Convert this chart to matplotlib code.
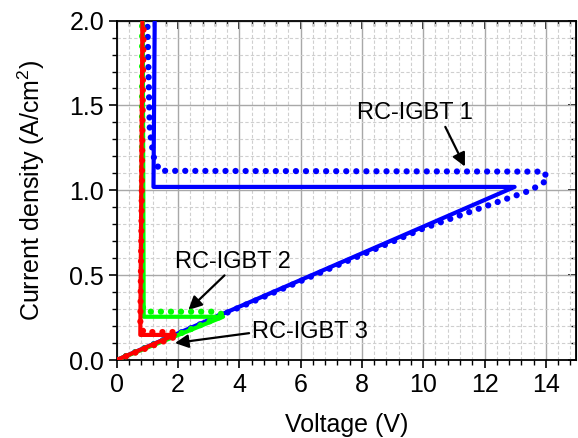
import matplotlib
matplotlib.use("Agg")
import matplotlib.pyplot as plt
from matplotlib.ticker import MultipleLocator

plt.rcParams['font.family'] = ['Liberation Sans', 'DejaVu Sans']
plt.rcParams['mathtext.fontset'] = 'custom'
plt.rcParams['mathtext.rm'] = 'Liberation Sans'

# datos (V, A/cm2)
# RC-IGBT 1
v1_solid = [0, 12.98, 1.20, 1.24]
j1_solid = [0, 1.02, 1.02, 2.0]
v1_dot = [0, 10.0, 13.5, 14.05, 13.95, 1.40, 1.20, 1.08, 1.00]
j1_dot = [0, 0.775, 1.0, 1.06, 1.11, 1.115, 1.20, 1.35, 2.0]
# RC-IGBT 2
v2_solid = [0, 3.47, 0.88, 0.85]
j2_solid = [0, 0.255, 0.255, 2.0]
v2_dot = [0, 3.52, 3.20, 0.95, 0.82, 0.83]
j2_dot = [0, 0.265, 0.285, 0.285, 0.32, 2.0]
# RC-IGBT 3
v3_solid = [0, 1.90, 0.77, 0.84]
j3_solid = [0, 0.148, 0.148, 2.0]
v3_dot = [0, 1.95, 1.85, 0.88, 0.77, 0.88]
j3_dot = [0, 0.14, 0.165, 0.165, 0.20, 2.0]

fig = plt.figure(figsize=(5.78, 4.38), dpi=100)
ax = fig.add_axes([0.2019, 0.178, 0.7955, 0.775])

dot = (0, (0.01, 1.6))
ax.plot(v1_dot, j1_dot, color='#0000ff', lw=4.5, ls=dot, dash_capstyle='round', zorder=3)
ax.plot(v1_solid, j1_solid, color='#0000ff', lw=3.0, zorder=3)
ax.plot(v2_dot, j2_dot, color='#00ff00', lw=4.5, ls=dot, dash_capstyle='round', zorder=4)
ax.plot(v2_solid, j2_solid, color='#00ff00', lw=3.0, zorder=4)
ax.plot(v3_dot, j3_dot, color='#ff0000', lw=4.5, ls=dot, dash_capstyle='round', zorder=5)
ax.plot(v3_solid, j3_solid, color='#ff0000', lw=3.0, zorder=5)

ax.set_xlim(0, 15)
ax.set_ylim(0, 2.0)
ax.xaxis.set_major_locator(MultipleLocator(2))
ax.xaxis.set_minor_locator(MultipleLocator(0.4))
ax.yaxis.set_major_locator(MultipleLocator(0.5))
ax.yaxis.set_minor_locator(MultipleLocator(0.1))
ax.yaxis.set_major_formatter(matplotlib.ticker.FormatStrFormatter('%.1f'))

ax.grid(which='major', color='#a8a8a8', lw=1.0, ls='-')
ax.grid(which='minor', color='#cfcfcf', lw=0.8, ls=(0, (3, 2)))
ax.set_axisbelow(True)

ax.tick_params(which='major', direction='out', length=6, width=1.2, labelsize=18, pad=3)
ax.tick_params(which='minor', direction='out', length=3.5, width=1.0)
for s in ax.spines.values():
    s.set_linewidth(1.3)

# ejes de arriba y derecha con ticks hacia adentro
top = ax.secondary_xaxis('top')
top.xaxis.set_major_locator(MultipleLocator(2))
top.xaxis.set_minor_locator(MultipleLocator(0.4))
top.tick_params(which='both', direction='in', labeltop=False)
top.tick_params(which='major', length=6, width=1.2)
top.tick_params(which='minor', length=3.5, width=1.0)
right = ax.secondary_yaxis('right')
right.yaxis.set_major_locator(MultipleLocator(0.5))
right.yaxis.set_minor_locator(MultipleLocator(0.1))
right.tick_params(which='both', direction='in', labelright=False)
right.tick_params(which='major', length=6, width=1.2)
right.tick_params(which='minor', length=3.5, width=1.0)

ax.set_xlabel('Voltage (V)', fontsize=18, labelpad=12)
ax.set_ylabel('Current density (A/cm$^2$)', fontsize=18, labelpad=16)

arrow = dict(arrowstyle='-|>', color='black', lw=1.6, mutation_scale=20, shrinkA=0, shrinkB=0)
ax.annotate('RC-IGBT 1', xy=(11.36, 1.14), xytext=(9.73, 1.455), fontsize=17,
            ha='center', va='center', arrowprops=dict(arrow, relpos=(0.75, 0)))
ax.annotate('RC-IGBT 2', xy=(2.34, 0.295), xytext=(3.8, 0.58), fontsize=17,
            ha='center', va='center', arrowprops=dict(arrow, relpos=(0.45, 0)))
ax.annotate('RC-IGBT 3', xy=(1.9, 0.10), xytext=(6.3, 0.167), fontsize=17,
            ha='center', va='center', arrowprops=dict(arrow, relpos=(0, 0.45)))

fig.savefig('out.png', dpi=100)
